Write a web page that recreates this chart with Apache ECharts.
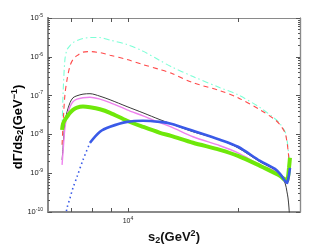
<!DOCTYPE html>
<html>
<head>
<meta charset="utf-8">
<script src="https://cdn.jsdelivr.net/npm/echarts@6/dist/echarts.min.js"></script>
<style>html,body{margin:0;padding:0;background:#fff}#c{width:332px;height:250px}</style>
</head>
<body>
<div id="c"></div>
<script>
// s2 values (GeV^2)
var s2 = [6600, 6640, 6720, 6810, 6940, 7070, 7250, 7530, 7870, 8380, 8930, 9940, 10990, 12230, 13110, 15060, 17850, 20000, 22980, 25250, 26060, 26900, 27230, 27410, 27580, 27750];
// dGamma/ds2 (GeV^-1)
var cyanDashDot = [1.31e-8, 1.05e-7, 8.5e-7, 1.53e-6, 1.95e-6, 2.33e-6, 2.62e-6, 2.95e-6, 3.13e-6, 3.13e-6, 2.7e-6, 2.07e-6, 1.4e-6, 8.0e-7, 5.6e-7, 3.1e-7, 1.6e-7, 1.05e-7, 4.9e-8, 2.53e-8, 1.88e-8, 1.17e-8, 7.3e-9, 4.5e-9, 2.5e-9, 1.37e-9];
var redDashed = [5.4e-9, 1.77e-8, 1.05e-7, 2.58e-7, 5.9e-7, 8.5e-7, 1.07e-6, 1.32e-6, 1.36e-6, 1.28e-6, 1.1e-6, 8.5e-7, 6.3e-7, 4.7e-7, 3.8e-7, 2.15e-7, 1.34e-7, 8.8e-8, 4.3e-8, 2.4e-8, 1.77e-8, 1.1e-8, 6.4e-9, 4.0e-9, 2.2e-9, 1.22e-9];
var blackSolid = [2.2e-9, 4.5e-9, 2.0e-8, 3.8e-8, 6.6e-8, 8.8e-8, 9.9e-8, 1.09e-7, 1.12e-7, 9.65e-8, 7.8e-8, 5.2e-8, 3.6e-8, 2.4e-8, 1.88e-8, 1.17e-8, 7.3e-9, 4.5e-9, 1.96e-9, 1.22e-9, 9.0e-10, 5.6e-10, 3.3e-10, 2.3e-10, 1.27e-10, 4.6e-11];
var violetSolid = [1.64e-9, 3.55e-9, 1.48e-8, 3.0e-8, 5.2e-8, 6.95e-8, 8.1e-8, 8.8e-8, 9.1e-8, 8.1e-8, 6.6e-8, 4.3e-8, 3.0e-8, 2.0e-8, 1.57e-8, 8.7e-9, 5.1e-9, 3.35e-9, 1.64e-9, 1.15e-9, 9.6e-10, 7.6e-10, 7.6e-10, 9.0e-10, 1.37e-9, 2.2e-9];
var greenThick = [1.31e-8, 1.88e-8, 2.4e-8, 2.85e-8, 3.6e-8, 4.3e-8, 4.9e-8, 5.2e-8, 5.0e-8, 4.45e-8, 3.6e-8, 2.25e-8, 1.57e-8, 1.1e-8, 9.2e-9, 6.1e-9, 4.0e-9, 2.8e-9, 1.55e-9, 1.0e-9, 8.5e-10, 6.7e-10, 6.3e-10, 8.0e-10, 1.37e-9, 2.5e-9];
var blueLine = [null, null, 6.2e-11, 1.27e-10, 2.3e-10, 4.2e-10, 8.0e-10, 2.2e-9, 6.1e-9, 1.17e-8, 1.57e-8, 2.1e-8, 2.25e-8, 2.1e-8, 1.88e-8, 1.24e-8, 7.3e-9, 4.8e-9, 2.08e-9, 1.29e-9, 9.6e-10, 6.3e-10, 5.6e-10, 6.7e-10, 9.0e-10, 1.37e-9];
var blueDottedUpTo = 7870; // blue curve is dotted below this s2
// axis ticks
var xTickValues = [7000, 8000, 9000, 10000, 20000];
var xLabelValues = [10000];
var yLabelValues = [1e-10, 1e-9, 1e-8, 1e-7, 1e-6, 1e-5];
var yMinorValues = [];
[1e-10, 1e-9, 1e-8, 1e-7, 1e-6].forEach(function (d) { [2,3,4,5,6,7,8,9].forEach(function (m) { yMinorValues.push(+(m * d).toPrecision(3)); }); });

var XMIN = 6040, XMAX = 29560, YMIN = 1e-10, YMAX = 1e-5;

function pairs(arr, test) {
  var out = [];
  for (var i = 0; i < s2.length; i++) {
    if (arr[i] == null) continue;
    if (test && !test(s2[i])) continue;
    out.push([s2[i], arr[i]]);
  }
  return out;
}
function expo(v) { return Math.round(Math.log(v) / Math.LN10); }

var titleRich = {
  n: { fontSize: 13, fontWeight: 'bold', fontFamily: 'Liberation Sans', color: '#111' },
  sub: { fontSize: 9, fontWeight: 'bold', fontFamily: 'Liberation Sans', color: '#111', padding: [6, 0, 0, 0] },
  sup: { fontSize: 9, fontWeight: 'bold', fontFamily: 'Liberation Sans', color: '#111', padding: [0, 0, 7, 0] }
};

var axisColor = '#8a8a8a';
function xAx(pos, labels) {
  return {
    type: 'log', min: XMIN, max: XMAX, position: pos,
    axisLine: { show: true, lineStyle: { color: axisColor, width: pos === 'bottom' ? 2 : 1.2 } },
    axisTick: { show: true, inside: true, length: 4, customValues: xTickValues, lineStyle: { color: '#555', width: 1 } },
    axisLabel: labels ? {
      show: true, customValues: xLabelValues, margin: 4,
      formatter: function (v) { return '{b|10}{s|' + expo(v) + '}'; },
      rich: { b: { fontSize: 7, color: '#222', fontFamily: 'Liberation Sans' }, s: { fontSize: 5, color: '#222', fontFamily: 'Liberation Sans', padding: [0, 0, 5, 0] } }
    } : { show: false },
    splitLine: { show: false },
    name: labels ? '{n|s}{sub|2}{n|(GeV}{sup|2}{n|)}' : '',
    nameLocation: 'middle', nameGap: 17,
    nameTextStyle: { rich: titleRich }
  };
}
function yAx(pos, minor, labels) {
  return {
    type: 'log', min: YMIN, max: YMAX, position: pos,
    axisLine: { show: true, lineStyle: { color: axisColor, width: pos === 'left' ? 2 : 1.2 } },
    axisTick: { show: true, inside: true, length: minor ? 2 : 4, customValues: minor ? yMinorValues : yLabelValues, lineStyle: { color: '#555', width: 1 } },
    axisLabel: labels ? {
      show: true, customValues: yLabelValues, margin: 5,
      formatter: function (v) { return '{b|10}{s|' + expo(v) + '}'; },
      rich: { b: { fontSize: 7.5, color: '#222', fontFamily: 'Liberation Sans' }, s: { fontSize: 5, color: '#222', fontFamily: 'Liberation Sans', padding: [0, 0, 5, 0] } }
    } : { show: false },
    splitLine: { show: false }
  };
}

var chart = echarts.init(document.getElementById('c'), null, { renderer: 'canvas' });
function line(data, color, width, type, z) {
  return { type: 'line', xAxisIndex: 0, yAxisIndex: 0, data: data, showSymbol: false, symbol: 'none', smooth: 0.3, clip: true, z: z || 2,
    lineStyle: { color: color, width: width, type: type }, animation: false };
}
chart.setOption({
  animation: false,
  grid: { left: 48, top: 18, right: 32, bottom: 38, containLabel: false, outerBoundsMode: 'none' },
  xAxis: [xAx('bottom', true), xAx('top', false)],
  yAxis: [yAx('left', false, true), yAx('left', true, false), yAx('right', false, false), yAx('right', true, false)],
  graphic: [{
    type: 'text', x: 18, y: 127, rotation: Math.PI / 2,
    style: { text: '{n|dΓ/ds}{sub|2}{n|(GeV}{sup|−1}{n|)}', rich: titleRich, align: 'center', verticalAlign: 'middle' }
  }],
  series: [
    line(pairs(cyanDashDot), '#7dffd6', 1.1, [6, 3, 1.5, 3]),
    line(pairs(redDashed), '#ff4a4a', 1.1, [5, 4]),
    line(pairs(blackSolid), '#3a3a3a', 1, 'solid', 3),
    line(pairs(violetSolid), '#ee82ee', 1.4, 'solid', 3),
    line(pairs(greenThick), '#6ee80a', 4, 'solid', 4),
    line(pairs(blueLine, function (s) { return s <= blueDottedUpTo; }), '#3a5ae8', 1.6, [1.5, 3], 5),
    line(pairs(blueLine, function (s) { return s >= blueDottedUpTo; }), '#3a5ae8', 2.6, 'solid', 5)
  ]
});
</script>
</body>
</html>
